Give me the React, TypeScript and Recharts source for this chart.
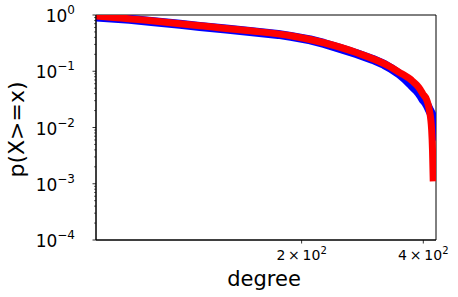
import React from 'react';
import { LineChart, Line, XAxis, YAxis, ReferenceArea } from 'recharts';

const blueDegree = [62, 75, 85, 100, 112, 130, 149, 175, 188, 210, 227, 250, 274, 300, 320, 331, 341, 350, 360, 371, 377, 385, 390, 395, 400, 405, 410, 415, 420, 424, 427, 430];
const blueP = [0.92, 0.84, 0.765, 0.685, 0.625, 0.565, 0.508, 0.452, 0.417, 0.362, 0.312, 0.252, 0.205, 0.162, 0.132, 0.115, 0.1, 0.088, 0.074, 0.06, 0.053, 0.046, 0.041, 0.036, 0.031, 0.028, 0.024, 0.02, 0.017, 0.013, 0.01, 0.007];

const redDegree = [62, 85, 112, 149, 188, 227, 274, 331, 350, 360, 371, 377, 385, 393, 399, 408, 414, 419.5, 421.5, 423.3];
const redP = [0.96, 0.79, 0.643, 0.524, 0.427, 0.321, 0.213, 0.1205, 0.094, 0.084, 0.0728, 0.0657, 0.057, 0.0474, 0.0394, 0.0308, 0.0205, 0.009, 0.004, 0.0011];

const xTicks = [200, 400];
const yMajor = [1e-4, 1e-3, 1e-2, 1e-1, 1];
const yMinor = [-4, -3, -2, -1].flatMap((k) => [2, 3, 4, 5, 6, 7, 8, 9].map((m) => m * Math.pow(10, k)));

const blueData = blueDegree.map((deg, i) => ({ deg, p: blueP[i] }));
const redData = redDegree.map((deg, i) => ({ deg, p: redP[i] }));

const FONT = '"DejaVu Sans", sans-serif';

const XTick = ({ x, y, payload }: any) => {
  const v = payload.value;
  const exp = Math.floor(Math.log10(v) + 1e-9);
  const mant = Math.round(v / Math.pow(10, exp));
  return (
    <g>
      <line x1={x} y1={y} x2={x} y2={y + 3.5} stroke="#000" strokeWidth={0.8} />
      <text x={x} y={y + 19.5} textAnchor="middle" fontFamily={FONT} fontSize={14} fill="#000">
        <tspan>{`${mant}\u2009×\u200910`}</tspan>
        <tspan dy={-6} fontSize={10}>{exp}</tspan>
      </text>
    </g>
  );
};

const YTick = ({ x, y, payload }: any) => {
  const v = payload.value;
  const lg = Math.log10(v);
  const major = Math.abs(lg - Math.round(lg)) < 1e-6;
  if (!major) {
    return <line x1={x - 2} y1={y} x2={x} y2={y} stroke="#000" strokeWidth={0.6} />;
  }
  const exp = Math.round(lg);
  const expText = exp < 0 ? `\u2212${-exp}` : `${exp}`;
  return (
    <g>
      <line x1={x - 3.5} y1={y} x2={x} y2={y} stroke="#000" strokeWidth={0.8} />
      <text x={x - 21} y={y + 7} textAnchor="end" fontFamily={FONT} fontSize={17} fill="#000">
        <tspan>10</tspan>
        <tspan dy={-8} fontSize={12}>{expText}</tspan>
      </text>
    </g>
  );
};

const XLabel = ({ viewBox }: any) => (
  <text x={viewBox.x + viewBox.width / 2 - 2} y={286} textAnchor="middle" fontFamily={FONT} fontSize={21} fill="#000">
    degree
  </text>
);

const YLabel = ({ viewBox }: any) => {
  const cx = 23.5;
  const cy = viewBox.y + viewBox.height / 2 + 2;
  return (
    <text x={cx} y={cy} transform={`rotate(-90, ${cx}, ${cy})`} textAnchor="middle" fontFamily={FONT} fontSize={22} fill="#000">
      p(X&gt;=x)
    </text>
  );
};

export default function App() {
  return (
    <div style={{ position: 'absolute', left: 0, top: 0, width: 458, height: 297, background: '#fff' }}>
      <LineChart width={458} height={297} margin={{ top: 15, right: 22, bottom: 0, left: 0 }}>
        <XAxis
          type="number" dataKey="deg" scale="log" domain={[62, 430]} allowDataOverflow
          ticks={xTicks} tick={<XTick />} tickLine={false} tickSize={0} tickMargin={0}
          height={57} axisLine={{ stroke: '#000', strokeWidth: 1 }} label={<XLabel />}
        />
        <YAxis
          type="number" dataKey="p" scale="log" domain={[1e-4, 1]} allowDataOverflow
          ticks={[...yMajor, ...yMinor]} interval={0} tick={<YTick />} tickLine={false} tickSize={0} tickMargin={0}
          width={96} axisLine={{ stroke: '#000', strokeWidth: 1 }} label={<YLabel />}
        />
        <ReferenceArea x1={62} x2={430} y1={1e-4} y2={1} fill="none" stroke="#000" strokeWidth={1} ifOverflow="visible" />
        <Line data={blueData} dataKey="p" type="linear" stroke="#0000ff" strokeWidth={9} strokeLinecap="round" strokeLinejoin="round" dot={false} isAnimationActive={false} />
        <Line data={redData} dataKey="p" type="monotone" stroke="#ff0000" strokeWidth={7} strokeLinecap="butt" dot={false} isAnimationActive={false} />
      </LineChart>
    </div>
  );
}
